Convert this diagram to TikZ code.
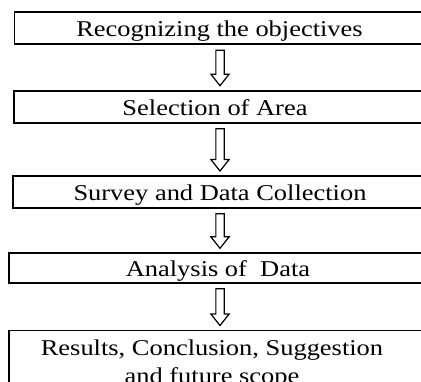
\documentclass[tikz,border=0pt]{standalone}
\usepackage{fontspec}
\setmainfont[FakeStretch=1.17]{Liberation Serif}
\usetikzlibrary{calc}

% hollow block arrow from the bottom of one box to the top of the next
\newcommand{\flowarrow}[2]{%
  \path (#1.south -| ax) coordinate (s) (#2.north -| ax) coordinate (e);
  \draw[hollowarrow] ($(s)+(-4.15,6)$) -- ($(e)+(-4.15,-16.5)$)
    -- ($(e)+(-9.15,-16.5)$) -- ($(e)+(0,-5)$) -- ($(e)+(9.15,-16.5)$)
    -- ($(e)+(4.15,-16.5)$) -- ($(s)+(4.15,6)$) -- cycle;}

\begin{document}
\begin{tikzpicture}[x=1pt,y=-1pt,
  stepbox/.style={draw, line width=1.8pt, minimum width=460pt,
    minimum height=#1, inner sep=0pt, outer sep=0pt, anchor=north west},
  lbl/.style={inner sep=0pt, anchor=base, align=center,
    font=\fontsize{22.6}{28}\selectfont},
  hollowarrow/.style={draw, line width=1.2pt, line join=miter, fill=white}]
\useasboundingbox (0,0) rectangle (421,382);
\clip (0,0) rectangle (421,382);
\coordinate (ax) at (220,0);

\node[stepbox=32pt]   (b1) at (14.5,12.3)  {};
\node[stepbox=32pt]   (b2) at (14,90.7)    {};
\node[stepbox=31.7pt] (b3) at (12.7,176)   {};
\node[stepbox=29.5pt] (b4) at (8.7,253.3)  {};
\node[stepbox=80pt]   (b5) at (8.7,330.5)  {};

\node[lbl] (t1) at (219.5,36.7) {Recognizing the objectives};
\node[lbl] (t2) at (215,115.1)  {Selection of Area};
\node[lbl] (t3) at (220,200.3)  {Survey and Data Collection};
\node[lbl] (t4) at (218,277)    {Analysis of\ \ Data};
% two-line label: its base anchor sits on the last line
\node[lbl] (t5) at (212,383.3)  {Results, Conclusion, Suggestion\\and future scope};

\flowarrow{b1}{b2}
\flowarrow{b2}{b3}
\flowarrow{b3}{b4}
\flowarrow{b4}{b5}
\end{tikzpicture}
\end{document}
